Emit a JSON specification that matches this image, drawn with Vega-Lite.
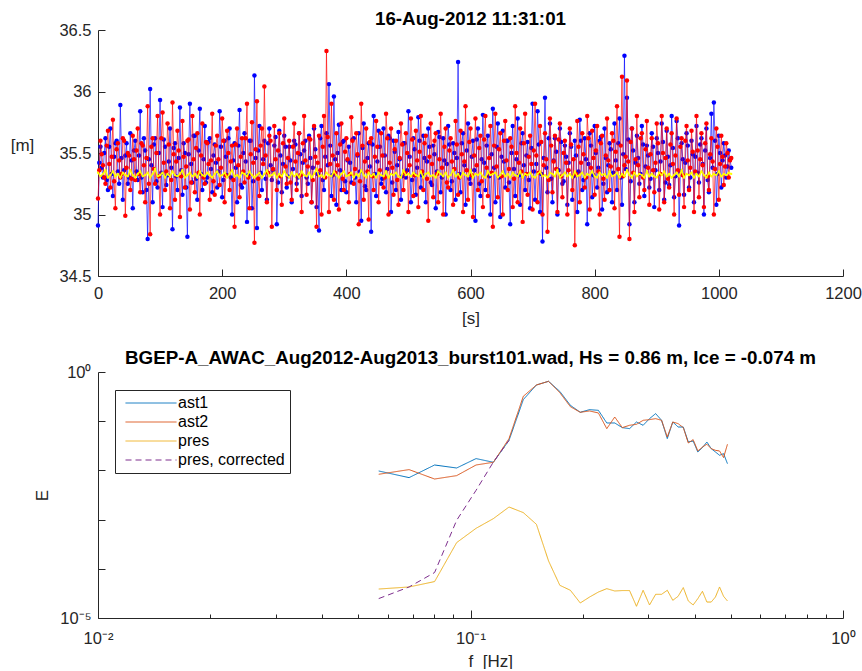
{
  "$schema": "https://vega.github.io/schema/vega-lite/v6.json",
  "padding": {"left": 10, "top": 10, "right": 0, "bottom": 0},
  "background": "white",
  "spacing": 96,
  "bounds": "flush",
  "config": {
    "font": "Liberation Sans",
    "view": {"stroke": null},
    "axis": {
      "domainColor": "#262626", "tickColor": "#262626", "labelColor": "#262626", "titleColor": "#262626",
      "labelFont": "Liberation Sans", "labelFontSize": 16.5, "titleFont": "Liberation Sans", "titleFontSize": 17,
      "titleFontWeight": "normal", "grid": false, "domainWidth": 1, "tickWidth": 1, "labelFlush": false, "labelOverlap": false
    },
    "title": {"font": "Liberation Sans", "fontSize": 18.8, "fontWeight": "bold", "color": "#000000", "anchor": "middle"},
    "legend": {
      "labelFont": "Liberation Sans", "labelFontSize": 16, "labelColor": "#000000",
      "padding": 5, "fillColor": "white", "strokeColor": "#262626", "cornerRadius": 0
    }
  },
  "vconcat": [
    {
      "width": 745,
      "height": 246,
      "title": {"text": "16-Aug-2012 11:31:01", "offset": -7},
      "data": {"values": [
        {"t":0,"a":34.91,"b":35.13,"p":35.34},{"t":4,"a":35.55,"b":35.60,"p":35.31},{"t":8,"a":35.30,"b":35.40,"p":35.33},{"t":12,"a":35.62,"b":35.25,"p":35.36},
        {"t":16,"a":35.20,"b":35.68,"p":35.30},{"t":20,"a":35.70,"b":35.22,"p":35.32},{"t":24,"a":35.15,"b":35.77,"p":35.35},{"t":28,"a":35.58,"b":35.05,"p":35.31},
        {"t":32,"a":35.35,"b":35.58,"p":35.33},{"t":36,"a":35.89,"b":35.30,"p":35.30},{"t":40,"a":35.12,"b":35.62,"p":35.34},{"t":44,"a":35.48,"b":34.99,"p":35.32},
        {"t":48,"a":35.25,"b":35.50,"p":35.31},{"t":52,"a":35.66,"b":35.20,"p":35.36},{"t":56,"a":35.05,"b":35.64,"p":35.32},{"t":60,"a":35.60,"b":35.28,"p":35.30},
        {"t":64,"a":35.28,"b":35.70,"p":35.33},{"t":68,"a":35.84,"b":35.18,"p":35.35},{"t":72,"a":35.18,"b":35.56,"p":35.31},{"t":76,"a":35.52,"b":35.10,"p":35.32},
        {"t":80,"a":34.80,"b":35.88,"p":35.34},{"t":84,"a":36.02,"b":34.84,"p":35.30},{"t":88,"a":35.10,"b":35.62,"p":35.33},{"t":92,"a":35.62,"b":35.25,"p":35.37},
        {"t":96,"a":35.22,"b":35.80,"p":35.31},{"t":100,"a":35.93,"b":35.00,"p":35.32},{"t":104,"a":35.06,"b":35.83,"p":35.34},{"t":108,"a":35.55,"b":35.20,"p":35.30},
        {"t":112,"a":35.32,"b":35.74,"p":35.33},{"t":116,"a":35.70,"b":35.05,"p":35.31},{"t":120,"a":34.88,"b":35.91,"p":35.35},{"t":124,"a":35.58,"b":35.12,"p":35.32},
        {"t":128,"a":35.20,"b":35.68,"p":35.31},{"t":132,"a":35.87,"b":34.98,"p":35.33},{"t":136,"a":35.16,"b":35.76,"p":35.36},{"t":140,"a":35.50,"b":35.22,"p":35.30},
        {"t":144,"a":34.82,"b":35.60,"p":35.32},{"t":148,"a":35.90,"b":35.04,"p":35.34},{"t":152,"a":35.26,"b":35.80,"p":35.31},{"t":156,"a":35.64,"b":35.18,"p":35.33},
        {"t":160,"a":35.12,"b":35.66,"p":35.30},{"t":164,"a":35.86,"b":35.00,"p":35.35},{"t":168,"a":35.20,"b":35.74,"p":35.32},{"t":172,"a":35.72,"b":35.25,"p":35.31},
        {"t":176,"a":35.30,"b":35.58,"p":35.34},{"t":180,"a":35.62,"b":35.12,"p":35.32},{"t":184,"a":35.18,"b":35.82,"p":35.30},{"t":188,"a":35.57,"b":35.16,"p":35.33},
        {"t":192,"a":35.22,"b":35.64,"p":35.35},{"t":196,"a":35.84,"b":35.24,"p":35.31},{"t":200,"a":35.14,"b":35.78,"p":35.32},{"t":204,"a":35.60,"b":35.10,"p":35.34},
        {"t":208,"a":35.32,"b":35.68,"p":35.30},{"t":212,"a":35.70,"b":35.20,"p":35.33},{"t":216,"a":35.00,"b":35.56,"p":35.36},{"t":220,"a":35.58,"b":34.90,"p":35.31},
        {"t":224,"a":35.10,"b":35.70,"p":35.32},{"t":228,"a":35.85,"b":35.14,"p":35.30},{"t":232,"a":35.22,"b":35.62,"p":35.34},{"t":236,"a":35.66,"b":35.26,"p":35.33},
        {"t":240,"a":34.94,"b":35.90,"p":35.31},{"t":244,"a":35.60,"b":35.05,"p":35.35},{"t":248,"a":35.05,"b":35.75,"p":35.32},{"t":252,"a":36.13,"b":34.77,"p":35.30},
        {"t":256,"a":34.89,"b":35.92,"p":35.32},{"t":260,"a":35.72,"b":35.15,"p":35.34},{"t":264,"a":35.20,"b":35.70,"p":35.30},{"t":268,"a":35.60,"b":36.04,"p":35.33},
        {"t":272,"a":35.12,"b":35.10,"p":35.36},{"t":276,"a":35.70,"b":35.64,"p":35.31},{"t":280,"a":35.28,"b":34.90,"p":35.32},{"t":284,"a":35.56,"b":35.72,"p":35.34},
        {"t":288,"a":34.92,"b":35.20,"p":35.30},{"t":292,"a":35.68,"b":35.66,"p":35.33},{"t":296,"a":35.18,"b":35.08,"p":35.31},{"t":300,"a":35.64,"b":35.78,"p":35.35},
        {"t":304,"a":35.22,"b":35.25,"p":35.32},{"t":308,"a":35.55,"b":35.60,"p":35.30},{"t":312,"a":35.10,"b":35.12,"p":35.34},{"t":316,"a":35.60,"b":35.74,"p":35.31},
        {"t":320,"a":35.25,"b":35.20,"p":35.33},{"t":324,"a":35.66,"b":35.66,"p":35.30},{"t":328,"a":35.15,"b":35.02,"p":35.35},{"t":332,"a":35.52,"b":35.80,"p":35.32},
        {"t":336,"a":35.30,"b":35.16,"p":35.31},{"t":340,"a":35.64,"b":35.62,"p":35.34},{"t":344,"a":35.10,"b":35.10,"p":35.30},{"t":348,"a":35.70,"b":35.72,"p":35.33},
        {"t":352,"a":35.06,"b":34.90,"p":35.37},{"t":356,"a":34.87,"b":35.64,"p":35.31},{"t":360,"a":35.72,"b":35.00,"p":35.32},{"t":364,"a":35.20,"b":35.80,"p":35.30},
        {"t":368,"a":35.66,"b":36.33,"p":35.34},{"t":372,"a":36.06,"b":35.02,"p":35.32},{"t":376,"a":35.15,"b":35.90,"p":35.31},{"t":380,"a":35.96,"b":35.12,"p":35.35},
        {"t":384,"a":35.08,"b":35.66,"p":35.32},{"t":388,"a":35.73,"b":35.04,"p":35.30},{"t":392,"a":35.20,"b":35.74,"p":35.33},{"t":396,"a":35.60,"b":35.20,"p":35.35},
        {"t":400,"a":35.18,"b":35.62,"p":35.31},{"t":404,"a":35.55,"b":35.10,"p":35.32},{"t":408,"a":35.26,"b":35.79,"p":35.34},{"t":412,"a":35.62,"b":35.25,"p":35.30},
        {"t":416,"a":35.10,"b":35.66,"p":35.33},{"t":420,"a":35.66,"b":34.92,"p":35.31},{"t":424,"a":34.95,"b":35.90,"p":35.36},{"t":428,"a":35.74,"b":35.12,"p":35.32},
        {"t":432,"a":35.20,"b":35.70,"p":35.30},{"t":436,"a":35.58,"b":34.96,"p":35.34},{"t":440,"a":34.86,"b":35.62,"p":35.31},{"t":444,"a":35.80,"b":35.20,"p":35.33},
        {"t":448,"a":35.15,"b":35.76,"p":35.30},{"t":452,"a":35.68,"b":35.10,"p":35.34},{"t":456,"a":35.25,"b":35.66,"p":35.32},{"t":460,"a":35.70,"b":35.22,"p":35.31},
        {"t":464,"a":35.18,"b":35.82,"p":35.35},{"t":468,"a":35.64,"b":35.00,"p":35.30},{"t":472,"a":35.02,"b":35.70,"p":35.33},{"t":476,"a":35.60,"b":35.16,"p":35.32},
        {"t":480,"a":35.20,"b":35.60,"p":35.34},{"t":484,"a":35.67,"b":35.08,"p":35.31},{"t":488,"a":35.12,"b":35.74,"p":35.30},{"t":492,"a":35.58,"b":35.20,"p":35.36},
        {"t":496,"a":35.30,"b":35.66,"p":35.32},{"t":500,"a":35.84,"b":35.02,"p":35.33},{"t":504,"a":35.10,"b":35.78,"p":35.31},{"t":508,"a":35.62,"b":35.15,"p":35.34},
        {"t":512,"a":35.16,"b":35.68,"p":35.32},{"t":516,"a":35.79,"b":35.06,"p":35.31},{"t":520,"a":35.22,"b":35.80,"p":35.35},{"t":524,"a":35.64,"b":35.20,"p":35.30},
        {"t":528,"a":35.10,"b":35.64,"p":35.33},{"t":532,"a":35.70,"b":34.95,"p":35.34},{"t":536,"a":35.26,"b":35.74,"p":35.31},{"t":540,"a":35.56,"b":35.14,"p":35.32},
        {"t":544,"a":35.05,"b":35.66,"p":35.30},{"t":548,"a":35.67,"b":35.10,"p":35.35},{"t":552,"a":35.18,"b":35.82,"p":35.33},{"t":556,"a":35.62,"b":35.00,"p":35.31},
        {"t":560,"a":35.00,"b":35.70,"p":35.34},{"t":564,"a":35.72,"b":35.22,"p":35.30},{"t":568,"a":35.20,"b":35.62,"p":35.32},{"t":572,"a":35.58,"b":35.08,"p":35.36},
        {"t":576,"a":35.12,"b":35.76,"p":35.31},{"t":580,"a":36.24,"b":35.16,"p":35.33},{"t":584,"a":35.18,"b":35.68,"p":35.30},{"t":588,"a":35.66,"b":35.02,"p":35.34},
        {"t":592,"a":35.08,"b":35.88,"p":35.32},{"t":596,"a":35.74,"b":35.12,"p":35.31},{"t":600,"a":35.25,"b":35.70,"p":35.36},{"t":604,"a":35.60,"b":34.98,"p":35.30},
        {"t":608,"a":34.95,"b":35.78,"p":35.33},{"t":612,"a":35.70,"b":35.20,"p":35.32},{"t":616,"a":35.15,"b":35.64,"p":35.34},{"t":620,"a":35.81,"b":35.06,"p":35.31},
        {"t":624,"a":35.20,"b":35.80,"p":35.30},{"t":628,"a":35.64,"b":35.15,"p":35.35},{"t":632,"a":35.00,"b":35.72,"p":35.32},{"t":636,"a":35.86,"b":34.90,"p":35.33},
        {"t":640,"a":35.10,"b":35.82,"p":35.34},{"t":644,"a":35.74,"b":35.14,"p":35.30},{"t":648,"a":34.98,"b":35.66,"p":35.32},{"t":652,"a":35.68,"b":35.00,"p":35.35},
        {"t":656,"a":35.22,"b":35.76,"p":35.31},{"t":660,"a":35.60,"b":35.20,"p":35.33},{"t":664,"a":34.92,"b":35.62,"p":35.30},{"t":668,"a":35.72,"b":35.06,"p":35.34},
        {"t":672,"a":35.15,"b":35.88,"p":35.32},{"t":676,"a":35.78,"b":35.10,"p":35.31},{"t":680,"a":35.08,"b":35.70,"p":35.35},{"t":684,"a":35.66,"b":34.94,"p":35.30},
        {"t":688,"a":35.20,"b":35.82,"p":35.33},{"t":692,"a":35.59,"b":35.16,"p":35.32},{"t":696,"a":35.05,"b":35.64,"p":35.34},{"t":700,"a":35.90,"b":35.04,"p":35.31},
        {"t":704,"a":35.12,"b":35.90,"p":35.30},{"t":708,"a":35.84,"b":35.10,"p":35.33},{"t":712,"a":35.02,"b":35.72,"p":35.35},{"t":716,"a":34.78,"b":35.00,"p":35.31},
        {"t":720,"a":35.95,"b":35.66,"p":35.32},{"t":724,"a":35.18,"b":34.86,"p":35.30},{"t":728,"a":35.74,"b":35.78,"p":35.34},{"t":732,"a":35.10,"b":35.18,"p":35.33},
        {"t":736,"a":35.62,"b":35.64,"p":35.31},{"t":740,"a":35.00,"b":35.02,"p":35.36},{"t":744,"a":35.70,"b":35.74,"p":35.30},{"t":748,"a":35.25,"b":35.14,"p":35.32},
        {"t":752,"a":35.56,"b":35.60,"p":35.34},{"t":756,"a":35.08,"b":35.00,"p":35.31},{"t":760,"a":35.66,"b":35.70,"p":35.33},{"t":764,"a":35.12,"b":35.20,"p":35.30},
        {"t":768,"a":35.60,"b":34.75,"p":35.35},{"t":772,"a":35.02,"b":35.76,"p":35.31},{"t":776,"a":35.77,"b":35.10,"p":35.32},{"t":780,"a":35.20,"b":35.66,"p":35.34},
        {"t":784,"a":35.62,"b":35.22,"p":35.30},{"t":788,"a":34.92,"b":35.80,"p":35.33},{"t":792,"a":35.66,"b":35.04,"p":35.32},{"t":796,"a":35.14,"b":35.68,"p":35.35},
        {"t":800,"a":35.72,"b":35.16,"p":35.31},{"t":804,"a":35.22,"b":35.72,"p":35.30},{"t":808,"a":35.60,"b":35.00,"p":35.34},{"t":812,"a":35.04,"b":35.64,"p":35.32},
        {"t":816,"a":35.70,"b":35.12,"p":35.33},{"t":820,"a":35.18,"b":35.78,"p":35.30},{"t":824,"a":35.58,"b":35.20,"p":35.35},{"t":828,"a":35.10,"b":35.66,"p":35.31},
        {"t":832,"a":35.74,"b":35.05,"p":35.32},{"t":836,"a":35.20,"b":35.88,"p":35.34},{"t":840,"a":35.78,"b":34.82,"p":35.30},{"t":844,"a":35.08,"b":36.12,"p":35.33},
        {"t":848,"a":36.29,"b":35.40,"p":35.31},{"t":852,"a":35.95,"b":36.09,"p":35.36},{"t":856,"a":34.92,"b":34.80,"p":35.32},{"t":860,"a":35.70,"b":35.70,"p":35.30},
        {"t":864,"a":35.10,"b":35.02,"p":35.34},{"t":868,"a":35.64,"b":35.80,"p":35.31},{"t":872,"a":35.25,"b":35.14,"p":35.33},{"t":876,"a":35.72,"b":35.66,"p":35.32},
        {"t":880,"a":35.15,"b":35.20,"p":35.30},{"t":884,"a":35.56,"b":35.76,"p":35.35},{"t":888,"a":35.22,"b":35.08,"p":35.31},{"t":892,"a":35.66,"b":35.62,"p":35.33},
        {"t":896,"a":35.06,"b":35.18,"p":35.31},{"t":900,"a":35.62,"b":35.74,"p":35.30},{"t":904,"a":35.20,"b":35.04,"p":35.34},{"t":908,"a":35.74,"b":35.80,"p":35.32},
        {"t":912,"a":35.12,"b":35.10,"p":35.35},{"t":916,"a":35.68,"b":35.70,"p":35.31},{"t":920,"a":35.24,"b":35.22,"p":35.33},{"t":924,"a":35.80,"b":35.66,"p":35.30},
        {"t":928,"a":35.14,"b":35.00,"p":35.32},{"t":932,"a":35.76,"b":35.78,"p":35.34},{"t":936,"a":34.91,"b":35.16,"p":35.31},{"t":940,"a":35.58,"b":35.62,"p":35.36},
        {"t":944,"a":35.16,"b":35.06,"p":35.30},{"t":948,"a":35.66,"b":35.72,"p":35.33},{"t":952,"a":35.22,"b":35.20,"p":35.32},{"t":956,"a":35.60,"b":35.68,"p":35.34},
        {"t":960,"a":35.10,"b":35.02,"p":35.30},{"t":964,"a":35.72,"b":35.80,"p":35.33},{"t":968,"a":35.26,"b":35.14,"p":35.31},{"t":972,"a":35.62,"b":35.66,"p":35.35},
        {"t":976,"a":35.00,"b":35.06,"p":35.32},{"t":980,"a":35.70,"b":35.74,"p":35.30},{"t":984,"a":35.18,"b":35.20,"p":35.34},{"t":988,"a":35.82,"b":35.62,"p":35.31},
        {"t":992,"a":35.91,"b":35.00,"p":35.33},{"t":996,"a":35.08,"b":35.70,"p":35.32},{"t":1000,"a":35.64,"b":35.12,"p":35.35},{"t":1004,"a":35.22,"b":35.64,"p":35.31},
        {"t":1008,"a":35.58,"b":35.24,"p":35.33},{"t":1012,"a":35.30,"b":35.58,"p":35.32},{"t":1016,"a":35.52,"b":35.30,"p":35.34},{"t":1020,"a":35.38,"b":35.46,"p":35.33},
        {"t":2,"a":35.42,"b":35.36},{"t":6,"a":35.38,"b":35.49},{"t":10,"a":35.50,"b":35.30},{"t":14,"a":35.28,"b":35.56},{"t":18,"a":35.55,"b":35.41},{"t":22,"a":35.33,"b":35.47},{"t":26,"a":35.47,"b":35.27},{"t":30,"a":35.60,"b":35.53},
        {"t":34,"a":35.25,"b":35.44},{"t":38,"a":35.46,"b":35.33},{"t":42,"a":35.36,"b":35.60},{"t":46,"a":35.58,"b":35.38},{"t":50,"a":35.30,"b":35.48},{"t":54,"a":35.44,"b":35.29},{"t":58,"a":35.52,"b":35.45},{"t":62,"a":35.35,"b":35.52},
        {"t":66,"a":35.48,"b":35.33},{"t":70,"a":35.30,"b":35.58},{"t":74,"a":35.62,"b":35.40},{"t":78,"a":35.20,"b":35.46},{"t":82,"a":35.45,"b":35.25},{"t":86,"a":35.40,"b":35.55},{"t":90,"a":35.57,"b":35.37},{"t":94,"a":35.27,"b":35.50},
        {"t":98,"a":35.50,"b":35.31},{"t":102,"a":35.34,"b":35.62},{"t":106,"a":35.61,"b":35.42},{"t":110,"a":35.24,"b":35.35},{"t":114,"a":35.43,"b":35.57},{"t":118,"a":35.38,"b":35.28},{"t":122,"a":35.54,"b":35.49},{"t":126,"a":35.31,"b":35.43},
        {"t":130,"a":35.46,"b":35.52},{"t":134,"a":35.36,"b":35.31},{"t":138,"a":35.58,"b":35.47},{"t":142,"a":35.22,"b":35.39},{"t":146,"a":35.49,"b":35.61},{"t":150,"a":35.41,"b":35.26},{"t":154,"a":35.64,"b":35.45},{"t":158,"a":35.29,"b":35.54},
        {"t":162,"a":35.52,"b":35.34},{"t":166,"a":35.33,"b":35.48},{"t":170,"a":35.45,"b":35.30},{"t":174,"a":35.26,"b":35.59},{"t":178,"a":35.59,"b":35.41},{"t":182,"a":35.37,"b":35.44},{"t":186,"a":35.48,"b":35.27},{"t":190,"a":35.42,"b":35.56},
        {"t":194,"a":35.35,"b":35.45},{"t":198,"a":35.55,"b":35.38},{"t":202,"a":35.28,"b":35.60},{"t":206,"a":35.47,"b":35.32},{"t":210,"a":35.62,"b":35.50},{"t":214,"a":35.30,"b":35.43},{"t":218,"a":35.44,"b":35.28},{"t":222,"a":35.38,"b":35.57},
        {"t":226,"a":35.56,"b":35.40},{"t":230,"a":35.24,"b":35.47},{"t":234,"a":35.50,"b":35.35},{"t":238,"a":35.43,"b":35.62},{"t":242,"a":35.32,"b":35.30},{"t":246,"a":35.60,"b":35.49},{"t":250,"a":35.27,"b":35.42},{"t":254,"a":35.46,"b":35.53},
        {"t":258,"a":35.52,"b":35.29},{"t":262,"a":35.34,"b":35.56},{"t":266,"a":35.45,"b":35.41},{"t":270,"a":35.29,"b":35.48},{"t":274,"a":35.58,"b":35.34},{"t":278,"a":35.40,"b":35.60},{"t":282,"a":35.36,"b":35.37},{"t":286,"a":35.63,"b":35.45},
        {"t":290,"a":35.26,"b":35.52},{"t":294,"a":35.48,"b":35.31},{"t":298,"a":35.41,"b":35.58},{"t":302,"a":35.55,"b":35.39},{"t":306,"a":35.31,"b":35.46},{"t":310,"a":35.44,"b":35.26},{"t":314,"a":35.37,"b":35.55},{"t":318,"a":35.57,"b":35.43},
        {"t":322,"a":35.30,"b":35.50},{"t":326,"a":35.49,"b":35.32},{"t":330,"a":35.42,"b":35.58},{"t":334,"a":35.60,"b":35.44},{"t":338,"a":35.25,"b":35.39},{"t":342,"a":35.46,"b":35.61},{"t":346,"a":35.38,"b":35.28},{"t":350,"a":35.53,"b":35.47},
        {"t":354,"a":35.33,"b":35.42},{"t":358,"a":35.62,"b":35.36},{"t":362,"a":35.28,"b":35.55},{"t":366,"a":35.47,"b":35.30},{"t":370,"a":35.40,"b":35.63},{"t":374,"a":35.56,"b":35.41},{"t":378,"a":35.32,"b":35.48},{"t":382,"a":35.45,"b":35.34},
        {"t":386,"a":35.50,"b":35.40},{"t":390,"a":35.36,"b":35.57},{"t":394,"a":35.59,"b":35.29},{"t":398,"a":35.27,"b":35.51},{"t":402,"a":35.44,"b":35.45},{"t":406,"a":35.42,"b":35.33},{"t":410,"a":35.61,"b":35.60},{"t":414,"a":35.30,"b":35.37},
        {"t":418,"a":35.48,"b":35.49},{"t":422,"a":35.35,"b":35.27},{"t":426,"a":35.54,"b":35.56},{"t":430,"a":35.23,"b":35.43},{"t":434,"a":35.46,"b":35.35},{"t":438,"a":35.39,"b":35.59},{"t":442,"a":35.57,"b":35.31},{"t":446,"a":35.33,"b":35.47},
        {"t":450,"a":35.43,"b":35.55},{"t":454,"a":35.55,"b":35.36},{"t":458,"a":35.29,"b":35.48},{"t":462,"a":35.48,"b":35.30},{"t":466,"a":35.37,"b":35.62},{"t":470,"a":35.62,"b":35.42},{"t":474,"a":35.26,"b":35.38},{"t":478,"a":35.51,"b":35.53},
        {"t":482,"a":35.40,"b":35.28},{"t":486,"a":35.45,"b":35.46},{"t":490,"a":35.31,"b":35.57},{"t":494,"a":35.58,"b":35.34},{"t":498,"a":35.36,"b":35.50},{"t":502,"a":35.47,"b":35.40},{"t":506,"a":35.28,"b":35.61},{"t":510,"a":35.53,"b":35.32},
        {"t":514,"a":35.38,"b":35.44},{"t":518,"a":35.60,"b":35.51},{"t":522,"a":35.32,"b":35.35},{"t":526,"a":35.46,"b":35.58},{"t":530,"a":35.43,"b":35.29},{"t":534,"a":35.55,"b":35.47},{"t":538,"a":35.24,"b":35.41},{"t":542,"a":35.49,"b":35.60},
        {"t":546,"a":35.35,"b":35.33},{"t":550,"a":35.63,"b":35.45},{"t":554,"a":35.30,"b":35.38},{"t":558,"a":35.44,"b":35.55},{"t":562,"a":35.41,"b":35.26},{"t":566,"a":35.57,"b":35.52},{"t":570,"a":35.27,"b":35.43},{"t":574,"a":35.50,"b":35.37},
        {"t":578,"a":35.46,"b":35.57},{"t":582,"a":35.33,"b":35.30},{"t":586,"a":35.58,"b":35.49},{"t":590,"a":35.40,"b":35.43},{"t":594,"a":35.52,"b":35.36},{"t":598,"a":35.29,"b":35.59},{"t":602,"a":35.47,"b":35.32},{"t":606,"a":35.36,"b":35.48},
        {"t":610,"a":35.61,"b":35.40},{"t":614,"a":35.25,"b":35.54},{"t":618,"a":35.45,"b":35.27},{"t":622,"a":35.42,"b":35.61},{"t":626,"a":35.56,"b":35.38},{"t":630,"a":35.31,"b":35.46},{"t":634,"a":35.49,"b":35.34},{"t":638,"a":35.38,"b":35.56},
        {"t":642,"a":35.55,"b":35.39},{"t":646,"a":35.30,"b":35.53},{"t":650,"a":35.47,"b":35.31},{"t":654,"a":35.43,"b":35.60},{"t":658,"a":35.60,"b":35.44},{"t":662,"a":35.26,"b":35.37},{"t":666,"a":35.50,"b":35.55},{"t":670,"a":35.37,"b":35.29},
        {"t":674,"a":35.45,"b":35.50},{"t":678,"a":35.32,"b":35.42},{"t":682,"a":35.58,"b":35.35},{"t":686,"a":35.40,"b":35.58},{"t":690,"a":35.48,"b":35.33},{"t":694,"a":35.28,"b":35.47},{"t":698,"a":35.54,"b":35.41},{"t":702,"a":35.35,"b":35.52},
        {"t":706,"a":35.41,"b":35.48},{"t":710,"a":35.57,"b":35.34},{"t":714,"a":35.33,"b":35.59},{"t":718,"a":35.46,"b":35.40},{"t":722,"a":35.38,"b":35.45},{"t":726,"a":35.62,"b":35.28},{"t":730,"a":35.29,"b":35.56},{"t":734,"a":35.44,"b":35.43},
        {"t":738,"a":35.51,"b":35.37},{"t":742,"a":35.36,"b":35.61},{"t":746,"a":35.59,"b":35.31},{"t":750,"a":35.27,"b":35.50},{"t":754,"a":35.47,"b":35.42},{"t":758,"a":35.42,"b":35.36},{"t":762,"a":35.55,"b":35.57},{"t":766,"a":35.31,"b":35.45},
        {"t":770,"a":35.48,"b":35.33},{"t":774,"a":35.35,"b":35.55},{"t":778,"a":35.60,"b":35.42},{"t":782,"a":35.28,"b":35.49},{"t":786,"a":35.45,"b":35.30},{"t":790,"a":35.41,"b":35.62},{"t":794,"a":35.56,"b":35.38},{"t":798,"a":35.32,"b":35.46},
        {"t":802,"a":35.50,"b":35.52},{"t":806,"a":35.38,"b":35.35},{"t":810,"a":35.63,"b":35.58},{"t":814,"a":35.25,"b":35.29},{"t":818,"a":35.46,"b":35.48},{"t":822,"a":35.40,"b":35.44},{"t":826,"a":35.53,"b":35.39},{"t":830,"a":35.34,"b":35.60},
        {"t":834,"a":35.44,"b":35.51},{"t":838,"a":35.58,"b":35.37},{"t":842,"a":35.30,"b":35.56},{"t":846,"a":35.49,"b":35.31},{"t":850,"a":35.37,"b":35.47},{"t":854,"a":35.61,"b":35.43},{"t":858,"a":35.27,"b":35.59},{"t":862,"a":35.52,"b":35.34},
        {"t":866,"a":35.42,"b":35.45},{"t":870,"a":35.46,"b":35.40},{"t":874,"a":35.33,"b":35.62},{"t":878,"a":35.57,"b":35.30},{"t":882,"a":35.39,"b":35.53},{"t":886,"a":35.48,"b":35.38},{"t":890,"a":35.29,"b":35.49},{"t":894,"a":35.55,"b":35.36},
        {"t":898,"a":35.36,"b":35.42},{"t":902,"a":35.50,"b":35.58},{"t":906,"a":35.43,"b":35.33},{"t":910,"a":35.59,"b":35.50},{"t":914,"a":35.26,"b":35.46},{"t":918,"a":35.47,"b":35.29},{"t":922,"a":35.40,"b":35.57},{"t":926,"a":35.54,"b":35.41},
        {"t":930,"a":35.31,"b":35.48},{"t":934,"a":35.62,"b":35.36},{"t":938,"a":35.35,"b":35.55},{"t":942,"a":35.45,"b":35.32},{"t":946,"a":35.42,"b":35.60},{"t":950,"a":35.56,"b":35.44},{"t":954,"a":35.30,"b":35.38},{"t":958,"a":35.49,"b":35.51},
        {"t":962,"a":35.47,"b":35.35},{"t":966,"a":35.34,"b":35.52},{"t":970,"a":35.57,"b":35.45},{"t":974,"a":35.41,"b":35.40},{"t":978,"a":35.52,"b":35.58},{"t":982,"a":35.28,"b":35.31},{"t":986,"a":35.46,"b":35.49},{"t":990,"a":35.38,"b":35.43},
        {"t":994,"a":35.60,"b":35.37},{"t":998,"a":35.33,"b":35.55},{"t":1002,"a":35.50,"b":35.41},{"t":1006,"a":35.44,"b":35.47},{"t":1010,"a":35.48,"b":35.39},{"t":1014,"a":35.39,"b":35.50},{"t":1018,"a":35.45,"b":35.44}
      ]},
      "encoding": {
        "x": {"field": "t", "type": "quantitative", "scale": {"domain": [0, 1200], "nice": false},
          "axis": {"values": [0, 200, 400, 600, 800, 1000, 1200], "format": "d", "title": "[s]", "tickSize": -7, "labelPadding": 16, "titleY": 34, "titleBaseline": "top"}}
      },
      "layer": [
        {"mark": {"type": "line", "color": "#0000ff", "strokeWidth": 1, "strokeOpacity": 0.65, "point": {"filled": true, "size": 20, "color": "#0000ff", "opacity": 1}},
         "encoding": {"y": {"field": "a", "type": "quantitative", "scale": {"domain": [34.5, 36.5], "nice": false},
           "axis": {"values": [34.5, 35, 35.5, 36, 36.5], "format": "~g", "title": "[m]", "titleAngle": 0, "titleX": -76, "titleY": 115, "titleAlign": "center", "titleBaseline": "middle", "tickSize": -7, "labelPadding": 14}}}},
        {"mark": {"type": "line", "color": "#ff0000", "strokeWidth": 1, "strokeOpacity": 0.65, "point": {"filled": true, "size": 20, "color": "#ff0000", "opacity": 1}},
         "encoding": {"y": {"field": "b", "type": "quantitative"}}},
        {"transform": [{"filter": "isValid(datum.p)"}],
         "mark": {"type": "line", "color": "#ffff00", "strokeWidth": 1.5, "point": {"filled": true, "size": 5, "color": "#ffff00"}},
         "encoding": {"y": {"field": "p", "type": "quantitative"}}}
      ]
    },
    {
      "width": 745,
      "height": 246,
      "title": {"text": "BGEP-A_AWAC_Aug2012-Aug2013_burst101.wad, Hs = 0.86 m, Ice = -0.074 m", "offset": -4},
      "data": {"values": [
        {"f":0.0567,"ast1":0.00973,"ast2":0.00834,"pres":3.88e-5,"pres, corrected":2.48e-5},
        {"f":0.0684,"ast1":0.00713,"ast2":0.01038,"pres":4.27e-5,"pres, corrected":4.27e-5},
        {"f":0.0801,"ast1":0.01288,"ast2":0.00668,"pres":5.50e-5,"pres, corrected":8.4e-5},
        {"f":0.0918,"ast1":0.01119,"ast2":0.00783,"pres":3.41e-4,"pres, corrected":9.68e-4},
        {"f":0.1035,"ast1":0.01738,"ast2":0.01288,"pres":6.65e-4,"pres, corrected":3.94e-3},
        {"f":0.1152,"ast1":0.01462,"ast2":0.01462,"pres":1.047e-3,"pres, corrected":1.48e-2},
        {"f":0.1269,"ast1":0.04093,"ast2":0.0443,"pres":1.803e-3,"pres, corrected":4.09e-2},
        {"f":0.1386,"ast1":0.2748,"ast2":0.3206,"pres":1.387e-3},
        {"f":0.1503,"ast1":0.5445,"ast2":0.5445,"pres":8.02e-4},
        {"f":0.1620,"ast1":0.6471,"ast2":0.6471,"pres":1.445e-4},
        {"f":0.1737,"ast1":0.4027,"ast2":0.380,"pres":4.62e-5},
        {"f":0.1854,"ast1":0.2104,"ast2":0.1972,"pres":3.66e-5},
        {"f":0.1971,"ast1":0.1517,"ast2":0.1517,"pres":2.02e-5},
        {"f":0.2088,"ast1":0.1718,"ast2":0.1614,"pres":2.67e-5},
        {"f":0.2205,"ast1":0.1663,"ast2":0.1469,"pres":3.37e-5},
        {"f":0.2322,"ast1":0.0920,"ast2":0.0706,"pres":3.95e-5},
        {"f":0.2439,"ast1":0.0920,"ast2":0.1216,"pres":3.54e-5},
        {"f":0.2556,"ast1":0.0740,"ast2":0.0740,"pres":3.61e-5},
        {"f":0.2673,"ast1":0.0706,"ast2":0.0826,"pres":3.61e-5},
        {"f":0.2790,"ast1":0.0964,"ast2":0.0865,"pres":1.73e-5},
        {"f":0.2907,"ast1":0.0826,"ast2":0.1042,"pres":3.66e-5},
        {"f":0.3024,"ast1":0.1127,"ast2":0.1076,"pres":1.84e-5},
        {"f":0.3141,"ast1":0.1426,"ast2":0.1127,"pres":3.03e-5},
        {"f":0.3258,"ast1":0.1042,"ast2":0.1042,"pres":3.03e-5},
        {"f":0.3375,"ast1":0.0443,"ast2":0.0478,"pres":3.66e-5},
        {"f":0.3492,"ast1":0.0964,"ast2":0.0964,"pres":2.29e-5},
        {"f":0.3609,"ast1":0.0762,"ast2":0.0893,"pres":2.76e-5},
        {"f":0.3726,"ast1":0.0762,"ast2":0.0740,"pres":4.15e-5},
        {"f":0.3843,"ast1":0.0378,"ast2":0.0361,"pres":2.22e-5},
        {"f":0.3960,"ast1":0.0396,"ast2":0.0422,"pres":1.84e-5},
        {"f":0.4077,"ast1":0.0237,"ast2":0.0248,"pres":2.48e-5},
        {"f":0.4194,"ast1":0.0290,"ast2":0.0299,"pres":3.49e-5},
        {"f":0.4311,"ast1":0.0378,"ast2":0.0340,"pres":2.11e-5},
        {"f":0.4428,"ast1":0.0277,"ast2":0.0277,"pres":2.11e-5},
        {"f":0.4545,"ast1":0.0237,"ast2":0.0256,"pres":2.67e-5},
        {"f":0.4662,"ast1":0.0203,"ast2":0.0248,"pres":4.27e-5},
        {"f":0.4779,"ast1":0.0219,"ast2":0.0182,"pres":2.76e-5},
        {"f":0.4896,"ast1":0.0137,"ast2":0.0340,"pres":2.22e-5}
      ]},
      "transform": [
        {"fold": ["ast1", "ast2", "pres", "pres, corrected"], "as": ["series", "E"]},
        {"filter": "isValid(datum.E)"}
      ],
      "mark": {"type": "line", "strokeWidth": 1},
      "encoding": {
        "x": {"field": "f", "type": "quantitative", "scale": {"type": "log", "domain": [0.01, 1], "nice": false},
          "axis": {"values": [0.01,0.02,0.03,0.04,0.05,0.06,0.07,0.08,0.09,0.1,0.2,0.3,0.4,0.5,0.6,0.7,0.8,0.9,1],
            "labelExpr": "datum.value == 0.01 ? '10⁻²' : datum.value == 0.1 ? '10⁻¹' : datum.value == 1 ? '10⁰' : ''",
            "tickSize": {"condition": {"test": "datum.value == 0.01 || datum.value == 0.1 || datum.value == 1", "value": -8}, "value": -4},
            "labelPadding": 20, "title": "f\u00a0\u00a0[Hz]", "titleX": 370, "titleY": 35, "titleBaseline": "top", "titleAlign": "left"}},
        "y": {"field": "E", "type": "quantitative", "scale": {"type": "log", "domain": [0.00001, 1], "nice": false},
          "axis": {"values": [0.00001, 0.0001, 0.001, 0.01, 0.1, 1],
            "labelExpr": "datum.value == 1 ? '10⁰' : datum.value < 0.00002 ? '10⁻⁵' : ''",
            "tickSize": -7, "labelPadding": 14, "title": "E", "titleX": -56, "titleY": 123, "titleAlign": "center", "titleBaseline": "middle", "titleAngle": 270}},
        "color": {"field": "series", "type": "nominal",
          "scale": {"domain": ["ast1", "ast2", "pres", "pres, corrected"], "range": ["#0072BD", "#D95319", "#EDB120", "#7E2F8E"]},
          "legend": {"orient": "none", "legendX": 17, "legendY": 360, "title": null, "symbolType": "M-0.5,0H9.7", "symbolSize": 100, "symbolStrokeWidth": 1, "symbolOffset": 0, "labelOffset": 42, "rowPadding": 3}},
        "strokeDash": {"field": "series", "type": "nominal",
          "scale": {"domain": ["ast1", "ast2", "pres", "pres, corrected"], "range": [[1, 0], [1, 0], [1, 0], [6, 4]]},
          "legend": {"orient": "none", "legendX": 17, "legendY": 360, "title": null, "symbolType": "M-0.5,0H9.7", "symbolSize": 100, "symbolStrokeWidth": 1, "symbolOffset": 0, "labelOffset": 42, "rowPadding": 3}}
      }
    }
  ]
}
